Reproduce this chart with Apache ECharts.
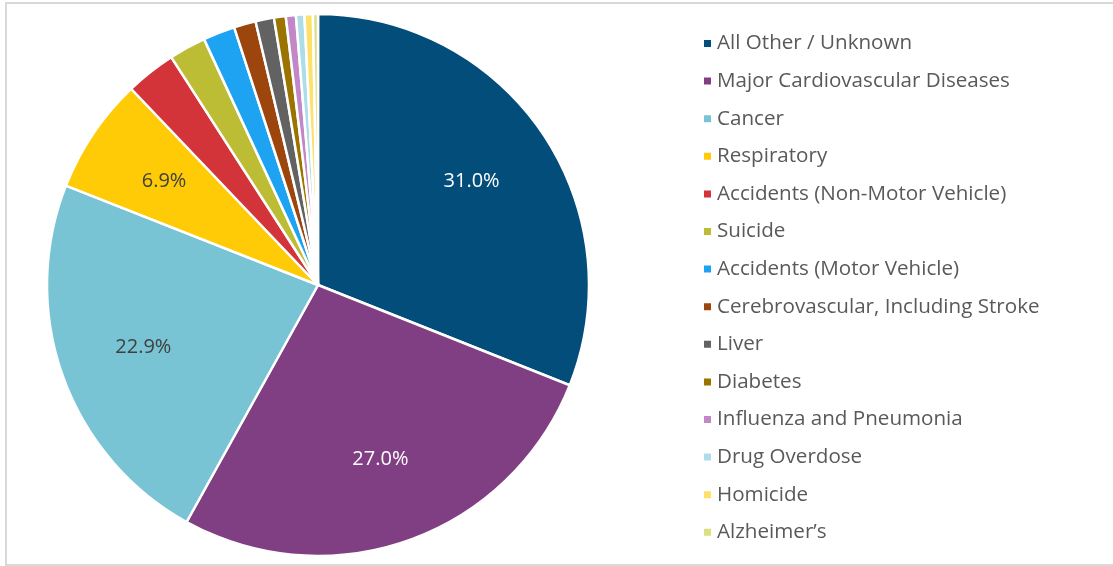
<!DOCTYPE html>
<html>
<head>
<meta charset="utf-8">
<script src="https://cdn.jsdelivr.net/npm/echarts@6/dist/echarts.min.js"></script>
<style>
  html, body { margin: 0; padding: 0; background: #fff; }
  #chart { width: 1113px; height: 566px; }
</style>
</head>
<body>
<div id="chart"></div>
<script>
const categories = [
  "All Other / Unknown",
  "Major Cardiovascular Diseases",
  "Cancer",
  "Respiratory",
  "Accidents (Non-Motor Vehicle)",
  "Suicide",
  "Accidents (Motor Vehicle)",
  "Cerebrovascular, Including Stroke",
  "Liver",
  "Diabetes",
  "Influenza and Pneumonia",
  "Drug Overdose",
  "Homicide",
  "Alzheimer\u2019s"
];
const shares = [31.0, 27.0, 22.9, 6.9, 3.0, 2.2, 1.9, 1.3, 1.1, 0.7, 0.6, 0.5, 0.5, 0.3];
const colors = [
  "#034d7b", "#813f83", "#78c4d4", "#fecb06", "#d23439", "#bdbd35", "#1ea2f2",
  "#9c450d", "#626262", "#9b7301", "#c287c6", "#acdde8", "#ffe06b", "#dcde84"
];
// only the big slices carry a label; dark slices get white text
const labelled = [true, true, true, true, false, false, false, false, false, false, false, false, false, false];
const labelColors = ["#ffffff", "#ffffff", "#404040", "#404040"];

const center = [318, 285];
const radius = 271;
const font = "'Open Sans', 'Noto Sans', sans-serif";

const chart = echarts.init(document.getElementById("chart"));

const data = categories.map((name, i) => ({
  name,
  value: shares[i],
  itemStyle: { color: colors[i] },
  label: {
    show: labelled[i],
    color: labelColors[i] || "#404040"
  }
}));

chart.setOption({
  animation: false,
  graphic: [{
    type: "rect",
    shape: { x: 6, y: 3, width: 1130, height: 562 },
    style: { fill: "none", stroke: "#d9d9d9", lineWidth: 2 },
    silent: true
  }],
  legend: {
    orient: "vertical",
    left: 697,
    top: 28,
    itemWidth: 9,
    itemHeight: 9,
    itemGap: 16.6,
    icon: "rect",
    data: categories,
    textStyle: {
      color: "#595959", fontSize: 20.6, lineHeight: 20,
      fontFamily: font, padding: [0, 0, 0, 0]
    }
  },
  series: [{
    type: "pie",
    center,
    radius,
    startAngle: 90,
    clockwise: true,
    avoidLabelOverlap: false,
    itemStyle: { borderColor: "#ffffff", borderWidth: 2.5 },
    label: {
      position: "inside",
      fontSize: 20,
      fontFamily: font,
      formatter: p => p.value.toFixed(1) + "%"
    },
    labelLine: { show: false },
    // push the inside labels outward, as Excel places them further from the centre
    labelLayout: p => {
      const r = p.labelRect;
      const lx = r.x + r.width / 2 - center[0];
      const ly = r.y + r.height / 2 - center[1];
      return { dx: lx * 0.34, dy: ly * 0.34 };
    },
    emphasis: { disabled: true },
    data
  }]
});
</script>
</body>
</html>
